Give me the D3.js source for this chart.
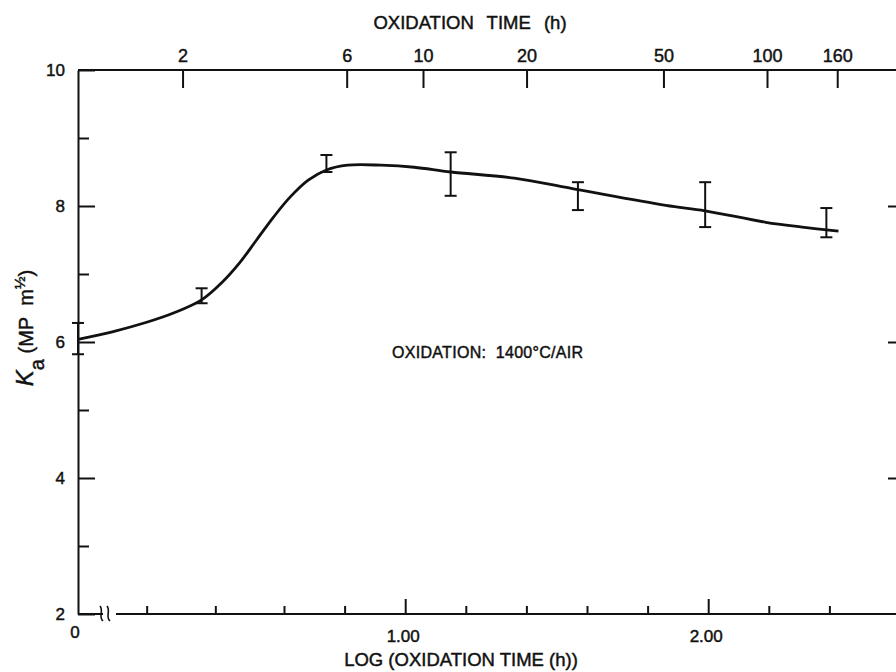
<!DOCTYPE html>
<html>
<head>
<meta charset="utf-8">
<script src="https://cdn.jsdelivr.net/npm/d3@7"></script>
<style>
  body { margin: 0; background: #fff; }
  svg text { font-family: "Liberation Sans", Arial, sans-serif; fill: #111; stroke: #111; stroke-width: 0.45px; }
</style>
</head>
<body>
<div id="chart"></div>
<script>
(function(){
var width = 896,
    height = 672

// data (x is log10 of oxidation time)
var curveLog = [0, 0.10, 0.20, 0.28, 0.36, 0.42, 0.47, 0.52, 0.57, 0.62, 0.68, 0.74, 0.81, 0.92, 1.03, 1.15, 1.36, 1.57, 1.86, 1.99, 2.19, 2.31, 2.43]
var curveKa  = [6.04, 6.15, 6.29, 6.43, 6.62, 6.88, 7.16, 7.50, 7.84, 8.13, 8.38, 8.53, 8.60, 8.60, 8.57, 8.50, 8.41, 8.24, 8.01, 7.93, 7.76, 7.69, 7.63]

var barLog = [0, 0.36, 0.74, 1.15, 1.57, 1.99, 2.39]
var barLo  = [5.82, 6.57, 8.50, 8.15, 7.94, 7.69, 7.54]
var barHi  = [6.28, 6.79, 8.75, 8.79, 8.35, 8.35, 7.97]

var topTicks = [2, 6, 10, 20, 50, 100, 160]
var bottomTicks = [0.2, 0.4, 0.6, 0.8, 1.0, 1.2, 1.4, 1.6, 1.8, 2.0, 2.2, 2.4]
var bottomLabels = [1.0, 2.0]
var yMajor = [2, 4, 6, 8, 10]
var yMinor = [3, 5, 7, 9]

var svg = d3.select('#chart')
  .append('svg')
  .attr('width', width)
  .attr('height', height)

// scales (bottom axis is broken near the origin, so piecewise)
var xScale = d3.scaleLinear()
  .domain([0, 0.6, 2.6])
  .range([78, 284, 890])

var xTop = d3.scaleLog()
  .domain([10, 100])
  .range([423, 767])

var yScale = d3.scaleLinear()
  .domain([2, 10])
  .range([614, 70])

var axisRight = 900

// left axis
var left = svg.append('g')
  .attr('transform', 'translate(78,0)')
  .call(d3.axisLeft(yScale).tickValues(yMajor).tickSizeInner(-17).tickSizeOuter(0).tickPadding(13))
left.selectAll('text').style('font-size', '17px')
left.append('g')
  .call(d3.axisLeft(yScale).tickValues(yMinor).tickSizeInner(-11).tickFormat(''))
  .call(g => g.select('.domain').remove())

// right axis (mostly off the page)
var right = svg.append('g')
  .attr('transform', 'translate(' + axisRight + ',0)')
  .call(d3.axisRight(yScale).tickValues(yMajor.slice(1, 4)).tickSizeInner(-12).tickSizeOuter(0).tickFormat(''))
right.append('g')
  .call(d3.axisRight(yScale).tickValues(yMinor).tickSizeInner(-4).tickFormat(''))

// top axis
var top = svg.append('g')
  .attr('transform', 'translate(0,70)')
  .call(d3.axisTop(xTop).tickValues(topTicks).tickSizeInner(-18).tickSizeOuter(0).tickPadding(8).tickFormat(d3.format('d')))
top.select('.domain').attr('d', 'M78,0H' + axisRight)
top.selectAll('text').style('font-size', '18px')

// bottom axis
var bottom = svg.append('g')
  .attr('transform', 'translate(0,614)')
  .call(d3.axisBottom(xScale).tickValues(bottomTicks).tickSizeInner(-8).tickSizeOuter(0).tickFormat(''))
bottom.selectAll('.tick line')
  .attr('y2', d => bottomLabels.indexOf(d) >= 0 ? -15 : -8)
bottom.select('.domain').attr('d', 'M78,0H103M116,0H' + axisRight)
// axis break
bottom.append('path')
  .attr('d', 'M103,7C98,3 104,-3 100,-8M110,7C105,3 111,-3 107,-8')
  .attr('fill', 'none')
  .attr('stroke', '#111')
  .attr('stroke-width', 1.6)

bottom.selectAll('.lbl')
  .data(bottomLabels)
  .enter()
  .append('text')
  .attr('class', 'lbl')
  .attr('x', d => xScale(d) - 2)
  .attr('y', 28)
  .attr('text-anchor', 'middle')
  .style('font-size', '17px')
  .text(d => d3.format('.2f')(d))

bottom.append('text')
  .attr('x', xScale(0) - 3)
  .attr('y', 24)
  .attr('text-anchor', 'middle')
  .style('font-size', '17px')
  .text('0')

svg.selectAll('.domain, .tick line')
  .attr('stroke', '#111')
  .attr('stroke-width', 2)

// titles
svg.append('text')
  .attr('x', 470)
  .attr('y', 29)
  .attr('text-anchor', 'middle')
  .style('font-size', '18.5px')
  .style('word-spacing', '8px')
  .text('OXIDATION TIME (h)')

svg.append('text')
  .attr('x', 461)
  .attr('y', 666)
  .attr('text-anchor', 'middle')
  .style('font-size', '18.5px')
  .text('LOG (OXIDATION TIME (h))')

var yLab = svg.append('text')
  .attr('transform', 'translate(33,328) rotate(-90)')
  .attr('text-anchor', 'middle')
  .style('font-size', '20px')
yLab.append('tspan').style('font-style', 'italic').style('font-size', '24px').text('K')
yLab.append('tspan').attr('baseline-shift', 'sub').text('a')
yLab.append('tspan').text(' (MP\u00a0\u00a0m')
yLab.append('tspan').attr('baseline-shift', 'super').style('font-size', '15px').text('½')
yLab.append('tspan').text(')')

svg.append('text')
  .attr('x', 392)
  .attr('y', 358)
  .style('font-size', '16px')
  .style('letter-spacing', '0.3px')
  .text('OXIDATION:\u00a0\u00a01400°C/AIR')

// curve
var line = d3.line()
  .x(d => xScale(d[0]))
  .y(d => yScale(d[1]))
  .curve(d3.curveCatmullRom)

svg.append('path')
  .datum(curveLog.map((d, i) => [d, curveKa[i]]))
  .attr('d', line)
  .attr('fill', 'none')
  .attr('stroke', '#111')
  .attr('stroke-width', 2.8)

// error bars
var bars = svg.selectAll('.bar')
  .data(barLog.map((d, i) => ({ x: d, lo: barLo[i], hi: barHi[i] })))
  .enter()
  .append('g')
  .attr('class', 'bar')
  .attr('stroke', '#111')
  .attr('stroke-width', 2)

bars.append('line')
  .attr('x1', d => xScale(d.x)).attr('x2', d => xScale(d.x))
  .attr('y1', d => yScale(d.lo)).attr('y2', d => yScale(d.hi))
bars.append('line')
  .attr('x1', d => xScale(d.x) - 6).attr('x2', d => xScale(d.x) + 6)
  .attr('y1', d => yScale(d.hi)).attr('y2', d => yScale(d.hi))
bars.append('line')
  .attr('x1', d => xScale(d.x) - 6).attr('x2', d => xScale(d.x) + 6)
  .attr('y1', d => yScale(d.lo)).attr('y2', d => yScale(d.lo))

})()
</script>
</body>
</html>
